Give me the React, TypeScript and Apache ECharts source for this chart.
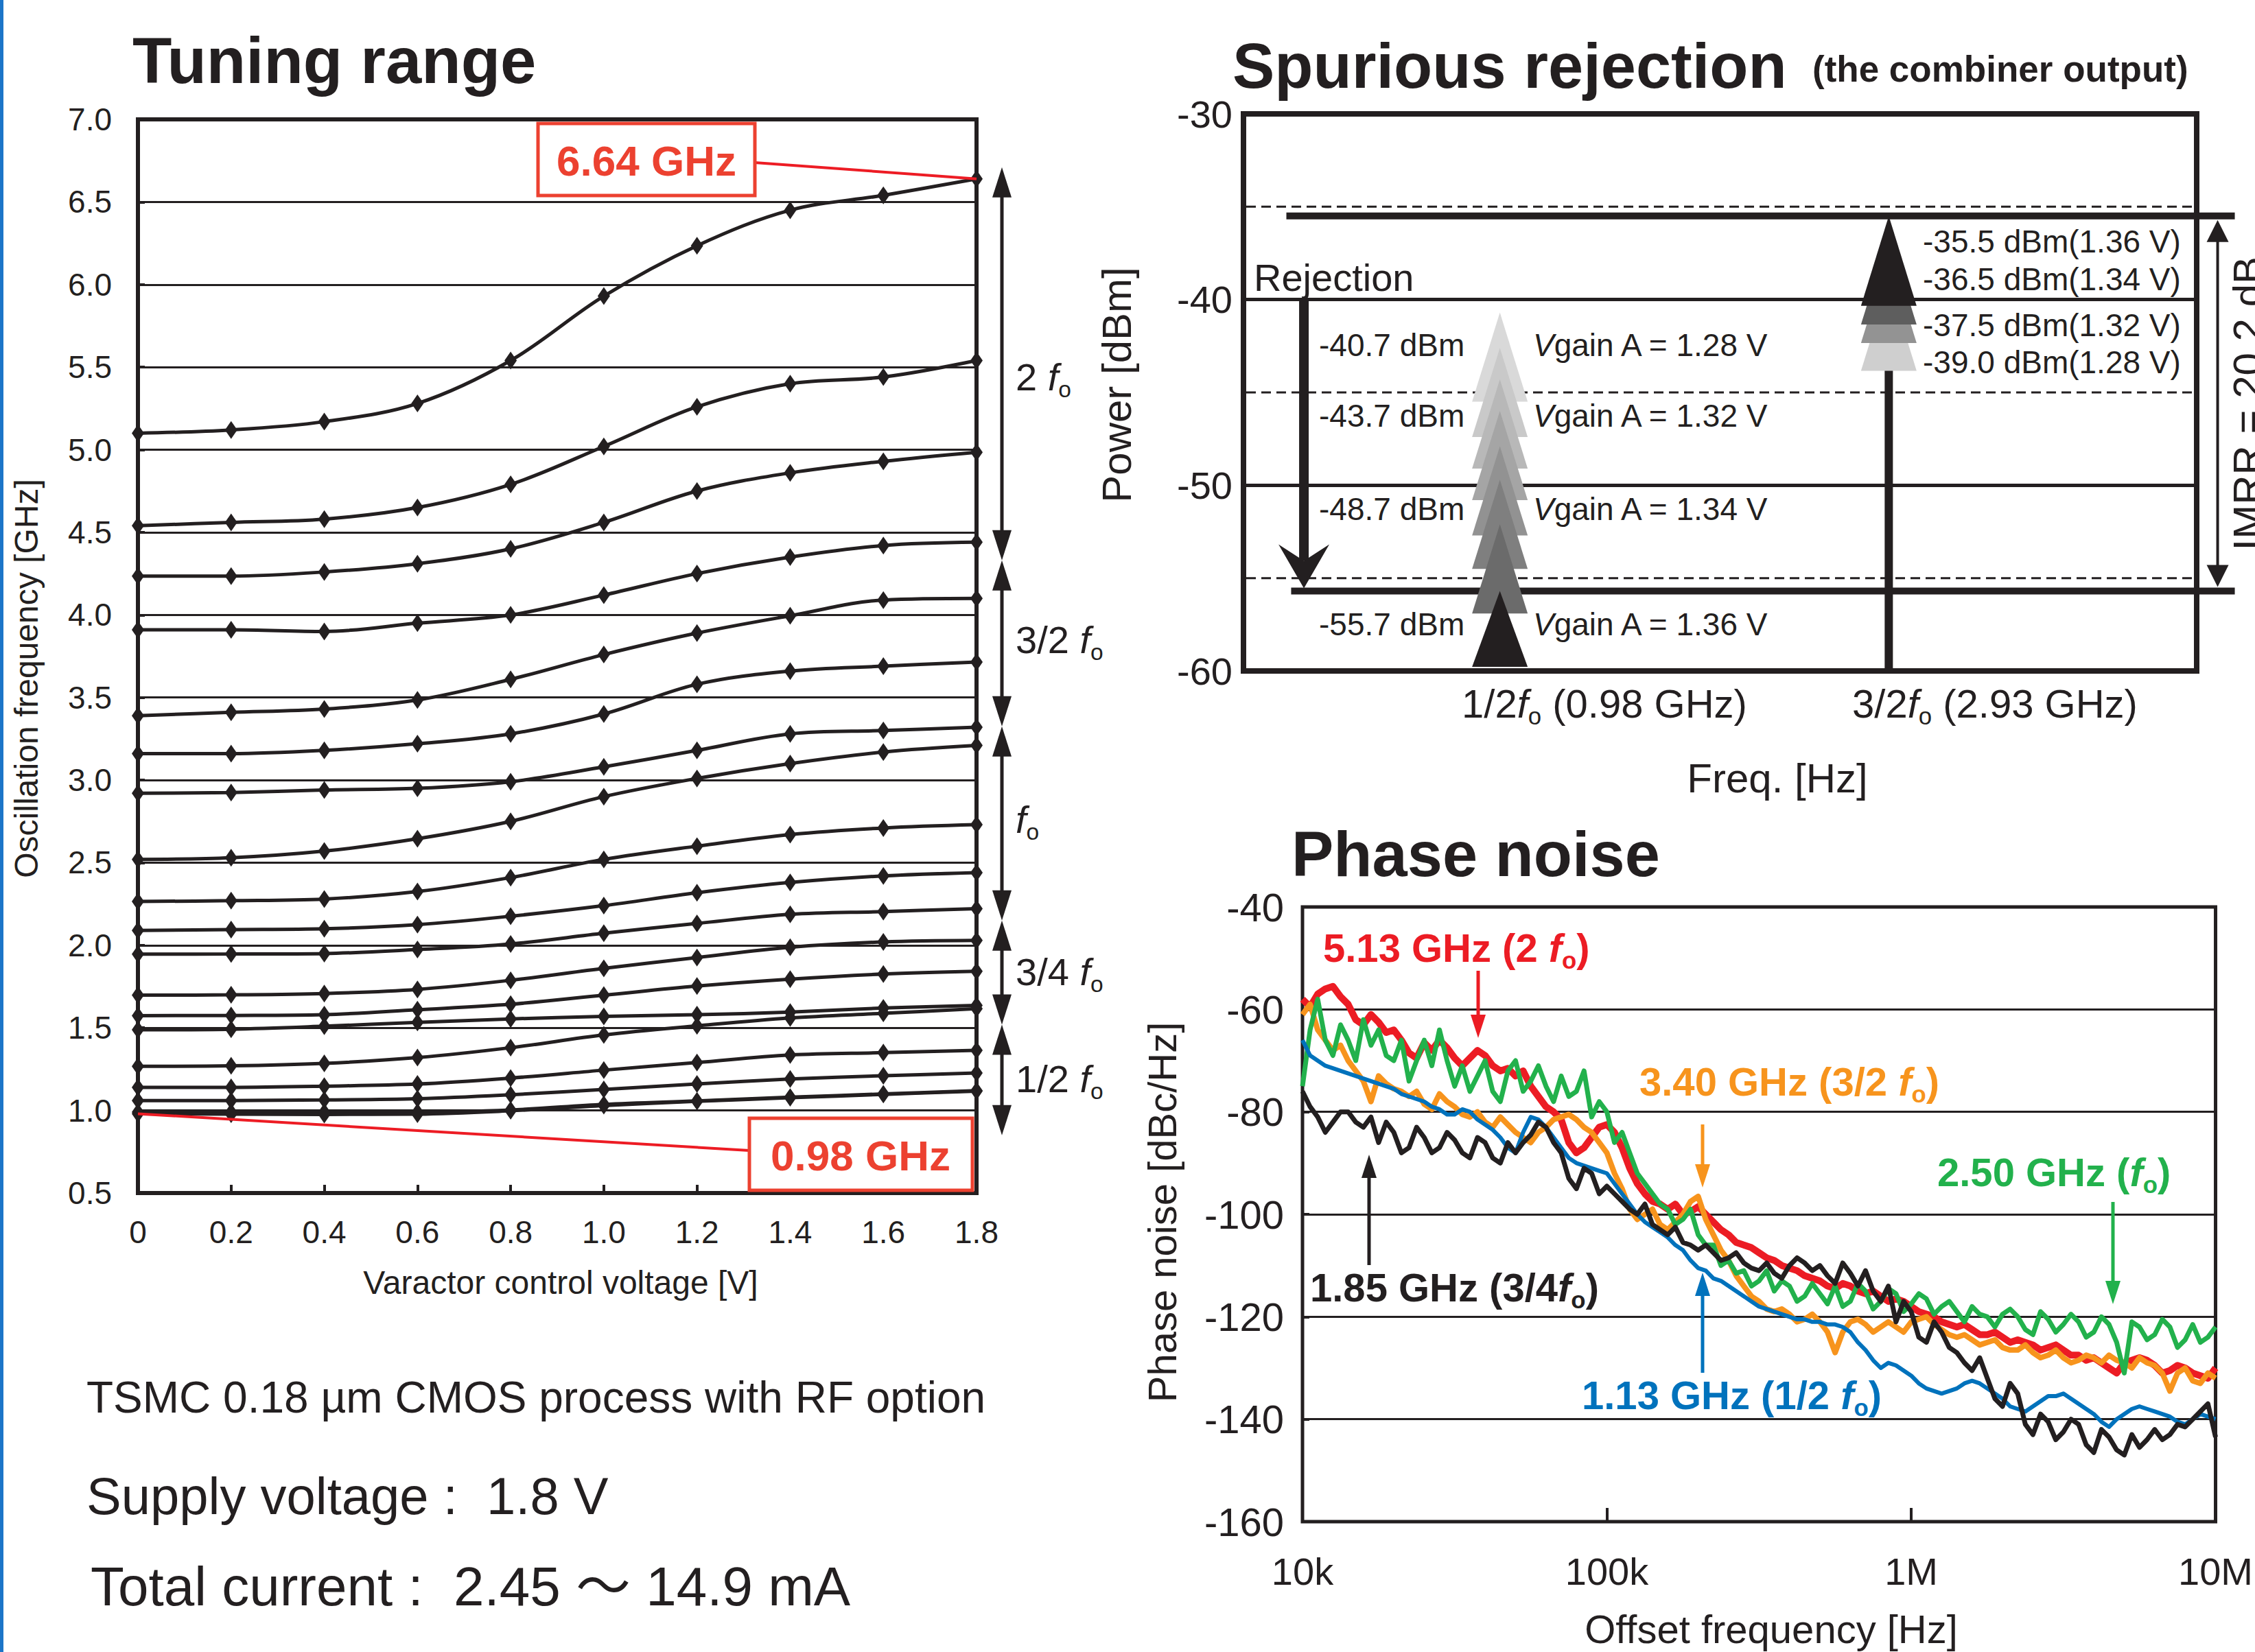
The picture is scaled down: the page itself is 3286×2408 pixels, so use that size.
import React, { useEffect, useRef } from 'react';
import * as echarts from 'echarts';

const W = 3286;
const H = 2408;
const INK = '#231f20';
const RED_BOX = '#ec4130';
const RED_LINE = '#ed1c24';
const FONT = '"Liberation Sans", Arial, Helvetica, sans-serif';
const CJK = '"Liberation Sans", "Noto Sans CJK JP", sans-serif';

// ---------------- Tuning range ----------------
const VCTRL = [0, 0.2, 0.4, 0.6, 0.8, 1.0, 1.2, 1.4, 1.6, 1.8];
const F01 = [5.1, 5.12, 5.17, 5.28, 5.54, 5.93, 6.235, 6.45, 6.54, 6.64];
const F02 = [4.54, 4.56, 4.58, 4.65, 4.79, 5.02, 5.26, 5.4, 5.44, 5.54];
const F03 = [4.235, 4.235, 4.26, 4.31, 4.4, 4.56, 4.75, 4.86, 4.93, 4.985];
const F04 = [3.91, 3.91, 3.9, 3.95, 4.0, 4.12, 4.25, 4.35, 4.42, 4.44];
const F05 = [3.39, 3.41, 3.43, 3.485, 3.61, 3.76, 3.89, 3.995, 4.09, 4.1];
const F06 = [3.16, 3.16, 3.18, 3.22, 3.28, 3.4, 3.58, 3.66, 3.69, 3.715];
const F07 = [2.92, 2.925, 2.94, 2.95, 2.99, 3.08, 3.18, 3.28, 3.3, 3.32];
const F08 = [2.52, 2.53, 2.57, 2.645, 2.75, 2.9, 3.01, 3.1, 3.17, 3.21];
const F09 = [2.265, 2.27, 2.28, 2.325, 2.41, 2.52, 2.6, 2.67, 2.71, 2.73];
const F10 = [2.09, 2.095, 2.1, 2.125, 2.176, 2.24, 2.318, 2.38, 2.42, 2.44];
const F11 = [1.946, 1.947, 1.95, 1.974, 2.008, 2.073, 2.132, 2.187, 2.204, 2.222];
const F12 = [1.698, 1.7, 1.708, 1.733, 1.788, 1.86, 1.926, 1.988, 2.02, 2.029];
const F13 = [1.574, 1.575, 1.58, 1.61, 1.643, 1.698, 1.753, 1.795, 1.826, 1.843];
const F14 = [1.488, 1.492, 1.51, 1.533, 1.554, 1.57, 1.58, 1.595, 1.62, 1.636];
const F15 = [1.267, 1.27, 1.285, 1.32, 1.38, 1.457, 1.512, 1.56, 1.588, 1.616];
const F16 = [1.14, 1.14, 1.147, 1.16, 1.196, 1.244, 1.29, 1.336, 1.35, 1.364];
const F17 = [1.06, 1.06, 1.064, 1.071, 1.095, 1.127, 1.16, 1.19, 1.21, 1.227];
const F18 = [0.99, 0.99, 0.99, 0.99, 1.003, 1.037, 1.058, 1.08, 1.1, 1.12];
const F19 = [0.98, 0.978, 0.976, 0.978, 0.998, 1.03, 1.055, 1.077, 1.097, 1.117];
const TUNE_CURVES = [F01, F02, F03, F04, F05, F06, F07, F08, F09, F10, F11, F12, F13, F14, F15, F16, F17, F18, F19];
const F_MAX = 6.64;
const F_MIN = 0.98;
const BAND_EDGES = [6.71, 4.33, 3.325, 2.15, 1.52, 0.85];
const BAND_NAMES = ['2 ', '3/2 ', '', '3/4 ', '1/2 '];
const BAND_LABEL_AT = [5.44, 3.85, 2.76, 1.84, 1.19];

// ---------------- Spurious rejection ----------------
const SPUR_X = [2.69, 6.77]; // 1/2 fo, 3/2 fo positions on the frequency axis
const HALF_VGAIN = ['1.28', '1.32', '1.34', '1.36'];
const HALF_LEVEL = [-40.7, -43.7, -48.7, -55.7];
const HALF_STACK = [-40.7, -42.6, -44.3, -46.0, -47.9, -49.7, -52.1, -55.7];
const HALF_SHADES = ['#d9d9d9', '#c9c9c9', '#b8b8b8', '#a5a5a5', '#929292', '#7f7f7f', '#6b6b6b', '#231f20'];
const IMRR_VGAIN = ['1.36', '1.34', '1.32', '1.28'];
const IMRR_LEVEL = [-35.5, -36.5, -37.5, -39.0];
const IMRR_SHADES = ['#231f20', '#5e5e5e', '#939393', '#cfcfcf'];
const SPUR_DASHED = [-35, -45, -55];
const IMRR_DB = '20.2';

// ---------------- Phase noise (dBc/Hz, log-spaced offsets from 10 kHz to 10 MHz) ----------------
const PN_LOG_START = 4;
const PN_LOG_END = 7;
const PN_RED_513 = [-58, -59.5, -57, -56, -55.5, -57.5, -59, -62, -63, -61, -62.5, -64.5, -64, -66, -68.5, -69.5, -66.5, -68, -66, -67.5, -69.5, -71, -69.5, -68, -69, -71, -72, -71.5, -73, -72, -75, -77, -79, -80, -81.5, -86, -88, -87, -85, -83, -82.5, -84, -87, -91, -94, -96, -97.5, -98, -99, -98, -100, -99.5, -98.5, -100, -101.5, -103, -104, -105.5, -106, -106.5, -107.5, -108.5, -109, -110, -110.5, -111, -112, -112.5, -113, -114, -114.5, -113.5, -114, -115, -115.5, -115, -116, -117, -116.5, -117, -118, -119, -119.5, -120, -121, -121.5, -122, -121.5, -122.5, -123.5, -123.5, -123, -124, -125, -124.5, -125, -125.5, -126.5, -126, -125.5, -126.5, -127.5, -127.5, -128.5, -128, -129, -130, -131, -129, -128.5, -128, -128.5, -129.5, -131, -130.5, -129.5, -130, -131, -131.5, -132, -130];
const PN_ORANGE_340 = [-61, -59, -64, -66, -68, -67, -70, -72, -74, -78, -73, -74.5, -75.5, -76, -77, -76, -78.5, -79.5, -76.5, -78, -79, -80.5, -81, -80, -82, -83, -81, -82.5, -84, -85, -86, -84, -83, -81.5, -81, -80.5, -81.5, -83, -84, -86, -88, -92, -95, -99, -101, -100, -99, -102, -103, -101.5, -100, -97.5, -96.5, -101, -104, -107, -109, -112, -114, -116, -117, -118.5, -119, -118.5, -119.5, -121, -120.5, -119.5, -121, -123, -127, -123, -121, -120.5, -121.5, -123, -122, -121, -122, -123, -121, -120.5, -120, -121.5, -122.5, -123.5, -124, -123.5, -124.5, -125.5, -125, -124.5, -126, -126.5, -126.5, -125.5, -127, -128, -127.5, -126.5, -128, -129, -128.5, -127.5, -128, -129, -127.5, -128.5, -129, -130, -128, -129, -129.5, -131, -134.5, -131, -130, -132.5, -133, -131, -132];
const PN_GREEN_250 = [-75, -64, -58, -66, -69, -63, -66, -70, -62, -67, -64, -69, -70, -66, -74, -70, -66, -71, -64, -70, -75, -71, -76, -73, -70, -76, -78, -72, -70, -76, -74, -71, -75, -78, -73, -77, -76, -72, -81, -78, -80, -86, -84, -88, -92, -94, -96, -98, -99, -102, -101, -99, -104, -106, -106, -110, -109, -111.5, -111, -114, -113, -111, -115, -113, -114, -117, -116, -113.5, -115.5, -117.5, -114, -118, -117, -113.5, -115, -118.5, -117, -114.5, -115.5, -119, -117.5, -115.5, -116.5, -119.5, -118, -117, -119, -121, -118, -119.5, -120, -122, -119.5, -118.5, -120, -122.5, -123.5, -119, -120.5, -123, -121.5, -119.5, -121, -124, -123, -120, -121.5, -125, -131, -121, -122, -124.5, -123.5, -120.5, -122, -126, -124.5, -121.5, -125, -124, -122];
const PN_BLUE_113 = [-66, -69, -70, -71, -71.5, -72, -72.5, -73, -73.5, -74, -74.5, -75, -75.5, -76.5, -77, -77.5, -78, -79, -79.5, -80.5, -80.5, -79.5, -80, -81.5, -82.5, -83.5, -85, -87, -88, -84, -81, -81.5, -83, -85, -87, -89, -90, -90.5, -91, -91.5, -92, -94, -96, -98, -100, -101.5, -102.5, -103.5, -104.5, -106, -107, -109, -110.5, -111, -112.5, -113, -114, -115, -116, -117, -118, -118.5, -119, -119.5, -120, -120.5, -120.5, -121, -121, -121.5, -121.5, -122, -123, -125, -126.5, -128.5, -130, -129, -129.5, -130.5, -131.5, -133, -134, -134.5, -135, -134.5, -134, -133, -132.5, -133, -134, -135, -136, -137.5, -138, -138.5, -137.5, -136.5, -135.5, -135.5, -135, -136, -137, -138, -139, -140.5, -141.5, -140, -139, -138, -137.5, -138, -138.5, -139, -139.5, -140.5, -141, -140, -139, -139.5, -140];
const PN_BLACK_185 = [-76, -79, -81, -84, -82, -80, -80, -82, -83, -81, -86, -82, -84, -88, -87, -83, -85, -88, -87, -84, -85.5, -88, -89, -85, -86, -89, -90, -86, -88, -86, -84.5, -82, -83, -86, -88, -93, -95, -91, -92, -96, -94.5, -96, -97.5, -99, -100, -98, -102, -103, -104, -102.5, -105.5, -106, -107, -106, -107.5, -109, -108.5, -107.5, -109.5, -110.5, -111, -109.5, -111.5, -112.5, -110, -108.5, -109.5, -111, -110, -112, -113.5, -109.5, -111.5, -114, -111, -115, -117, -114, -121, -117, -119, -124, -125, -121, -123, -126, -127, -129, -130.5, -128, -132, -136, -137.5, -133, -135, -141, -143, -139, -140.5, -144, -142.5, -140, -141, -145, -146.5, -142, -143.5, -146, -147, -143, -145.5, -144, -142, -144, -143, -141, -141.5, -140, -138.5, -137, -143.5];
const PN_COLORS = { red: '#ec1c24', orange: '#f7941d', green: '#22b14c', blue: '#0072bc', black: INK };
const PN_TRACES = [
  { name: '5.13 GHz (2 fo)', values: PN_RED_513, color: PN_COLORS.red, width: 10 },
  { name: '3.40 GHz (3/2 fo)', values: PN_ORANGE_340, color: PN_COLORS.orange, width: 8 },
  { name: '2.50 GHz (fo)', values: PN_GREEN_250, color: PN_COLORS.green, width: 7 },
  { name: '1.13 GHz (1/2 fo)', values: PN_BLUE_113, color: PN_COLORS.blue, width: 6 },
  { name: '1.85 GHz (3/4fo)', values: PN_BLACK_185, color: PN_COLORS.black, width: 7 },
];
const PN_TICK_LABELS: Record<number, string> = { 4: '10k', 5: '100k', 6: '1M', 7: '10M' };

function buildOption(): any {
  const tuneSeries = TUNE_CURVES.map((c, i) => ({
    type: 'line',
    name: 'curve ' + (i + 1),
    xAxisIndex: 0,
    yAxisIndex: 0,
    data: VCTRL.map((v, j) => [v, c[j]]),
    smooth: 0.35,
    symbol: 'diamond',
    symbolSize: [18, 26],
    showSymbol: true,
    lineStyle: { color: INK, width: 5 },
    itemStyle: { color: INK },
    z: 3,
    silent: true,
  }));
  const pnSeries = PN_TRACES.map((tr) => {
    const n = tr.values.length;
    return {
      type: 'line',
      name: tr.name,
      xAxisIndex: 2,
      yAxisIndex: 2,
      data: tr.values.map((v, i) => [Math.pow(10, PN_LOG_START + (i * (PN_LOG_END - PN_LOG_START)) / (n - 1)), v]),
      showSymbol: false,
      symbol: 'none',
      lineStyle: { color: tr.color, width: tr.width, join: 'round' },
      z: 3,
      silent: true,
    };
  });
  const lbl = (size: number, margin: number, extra: any = {}) => ({
    color: INK, fontFamily: FONT, fontSize: size, margin, ...extra,
  });
  return {
    animation: false,
    backgroundColor: '#ffffff',
    textStyle: { fontFamily: FONT },
    grid: [
      { left: 201, top: 174, width: 1222, height: 1565, show: true, borderColor: INK, borderWidth: 6, backgroundColor: 'transparent' },
      { left: 1812, top: 166, width: 1389, height: 812, show: true, borderColor: INK, borderWidth: 8, backgroundColor: 'transparent' },
      { left: 1898, top: 1322, width: 1338, height: 896, show: true, borderColor: INK, borderWidth: 5, backgroundColor: 'transparent' },
    ],
    xAxis: [
      {
        gridIndex: 0, type: 'value', min: 0, max: 1.8, interval: 0.2,
        axisLine: { show: false },
        axisTick: { show: true, inside: true, length: 12, lineStyle: { color: INK, width: 4 } },
        splitLine: { show: false },
        axisLabel: lbl(46, 34, { formatter: (v: number) => (v === 0 ? '0' : v.toFixed(1)) }),
      },
      { gridIndex: 1, type: 'value', min: 0, max: 10, show: false },
      {
        gridIndex: 2, type: 'log', logBase: 10, min: 1e4, max: 1e7,
        axisLine: { show: false },
        axisTick: { show: true, inside: true, length: 20, lineStyle: { color: INK, width: 4 } },
        minorTick: { show: false },
        splitLine: { show: false },
        axisLabel: lbl(56, 44, { formatter: (v: number) => PN_TICK_LABELS[Math.round(Math.log10(v))] || '' }),
      },
    ],
    yAxis: [
      {
        gridIndex: 0, type: 'value', min: 0.5, max: 7, interval: 0.5,
        axisLine: { show: false },
        axisTick: { show: true, inside: true, length: 10, lineStyle: { color: INK, width: 4 } },
        splitLine: { show: true, lineStyle: { color: INK, width: 3 } },
        axisLabel: lbl(46, 38, { formatter: (v: number) => v.toFixed(1) }),
      },
      {
        gridIndex: 1, type: 'value', min: -60, max: -30, interval: 10,
        axisLine: { show: false },
        axisTick: { show: false },
        splitLine: { show: true, lineStyle: { color: INK, width: 5 } },
        axisLabel: lbl(56, 16),
      },
      {
        gridIndex: 2, type: 'value', min: -160, max: -40, interval: 20,
        axisLine: { show: false },
        axisTick: { show: true, inside: true, length: 10, lineStyle: { color: INK, width: 4 } },
        splitLine: { show: true, lineStyle: { color: INK, width: 3 } },
        axisLabel: lbl(58, 27),
      },
    ],
    series: [
      ...tuneSeries,
      { type: 'line', name: 'spur frame', xAxisIndex: 1, yAxisIndex: 1, data: [], silent: true },
      ...pnSeries,
    ],
  };
}

function T(x: number, y: number, text: string, size: number, o: any = {}) {
  const fill = o.fill || INK;
  const align = o.align || 'left';
  const va = o.va || 'middle';
  const style: any = {
    text,
    fill,
    fontSize: size,
    fontFamily: o.family || FONT,
    fontWeight: o.weight || 'normal',
    fontStyle: o.italic ? 'italic' : 'normal',
    align, verticalAlign: va, textAlign: align, textVerticalAlign: va,
  };
  if (o.rich) style.rich = o.rich;
  return { type: 'text', x, y, rotation: o.rotation || 0, silent: true, z: 20, style };
}

function foRich(size: number, fill: string, weight = 'normal') {
  return {
    n: { fontSize: size, fontFamily: FONT, fontWeight: weight, fill, lineHeight: size * 1.25 },
    i: { fontSize: size, fontFamily: FONT, fontWeight: weight, fontStyle: 'italic', fill, lineHeight: size * 1.25 },
    s: { fontSize: size * 0.6, fontFamily: FONT, fontWeight: weight, fill, lineHeight: size * 0.72, verticalAlign: 'bottom' },
  };
}

function L(x1: number, y1: number, x2: number, y2: number, width: number, color = INK, dash?: number[]) {
  const style: any = { stroke: color, lineWidth: width };
  if (dash) style.lineDash = dash;
  return { type: 'line', silent: true, z: 15, shape: { x1, y1, x2, y2 }, style };
}

function Tri(x: number, tip: number, w: number, h: number, fill: string, up = true) {
  const b = up ? tip + h : tip - h;
  return { type: 'polygon', silent: true, z: 16, shape: { points: [[x, tip], [x - w / 2, b], [x + w / 2, b]] }, style: { fill } };
}

function buildGraphics(chart: any) {
  const P = (g: number, x: number, y: number) => chart.convertToPixel({ gridIndex: g }, [x, y]) as number[];
  const els: any[] = [];
  els.push({ type: 'rect', silent: true, z: 20, shape: { x: 0, y: 0, width: 5, height: H }, style: { fill: '#1c75c8' } });

  // ---- Tuning range ----
  els.push(T(193, 88, 'Tuning range', 94, { weight: 'bold' }));
  els.push(T(817, 1869, 'Varactor control voltage [V]', 48, { align: 'center' }));
  els.push(T(38, 989, 'Oscillation frequency [GHz]', 48, { align: 'center', rotation: Math.PI / 2 }));
  // 6.64 GHz callout
  const pMax = P(0, VCTRL[VCTRL.length - 1], F_MAX);
  els.push(L(1100, 237, pMax[0], pMax[1], 4, RED_LINE));
  els.push({ type: 'rect', silent: true, z: 18, shape: { x: 784, y: 180, width: 316, height: 105 }, style: { fill: '#fff', stroke: RED_BOX, lineWidth: 5 } });
  els.push(T(942, 234, F_MAX.toFixed(2) + ' GHz', 62, { weight: 'bold', fill: RED_BOX, align: 'center' }));
  // 0.98 GHz callout
  const pMin = P(0, VCTRL[0], F_MIN);
  els.push(L(pMin[0], pMin[1], 1092, 1677, 4, RED_LINE));
  els.push({ type: 'rect', silent: true, z: 18, shape: { x: 1092, y: 1630, width: 325, height: 105 }, style: { fill: '#fff', stroke: RED_BOX, lineWidth: 5 } });
  els.push(T(1254, 1684, F_MIN.toFixed(2) + ' GHz', 62, { weight: 'bold', fill: RED_BOX, align: 'center' }));
  // band arrows
  const ax = 1460;
  const bys = BAND_EDGES.map((v) => P(0, 0, v)[1]);
  for (let i = 0; i < bys.length - 1; i++) {
    const top = bys[i];
    const bot = bys[i + 1];
    els.push(L(ax, top + 30, ax, bot - 30, 5));
    els.push(Tri(ax, top, 28, 44, INK, true));
    els.push(Tri(ax, bot, 28, 44, INK, false));
    const mid = P(0, 0, BAND_LABEL_AT[i])[1];
    els.push(T(1480, mid, BAND_NAMES[i] + '{i|f}{s|o}', 56, { rich: foRich(56, INK) }));
  }

  // ---- Spurious rejection ----
  els.push(T(1796, 96, 'Spurious rejection', 92, { weight: 'bold' }));
  els.push(T(2641, 100, '(the combiner output)', 53, { weight: 'bold' }));
  els.push(T(1627, 561, 'Power [dBm]', 60, { align: 'center', rotation: Math.PI / 2 }));
  els.push(T(2590, 1134, 'Freq. [Hz]', 60, { align: 'center' }));
  els.push(T(2338, 1025, '1/2{i|f}{s|o} (0.98 GHz)', 58, { align: 'center', rich: foRich(58, INK) }));
  els.push(T(2907, 1025, '3/2{i|f}{s|o} (2.93 GHz)', 58, { align: 'center', rich: foRich(58, INK) }));
  const S = (x: number, y: number) => P(1, x, y);
  SPUR_DASHED.forEach((v) => {
    const a = S(0, v);
    const b = S(10, v);
    els.push(L(a[0] + 4, a[1], b[0] - 4, b[1], 3, INK, [14, 8]));
  });
  // thick level lines
  const top = S(0.45, IMRR_LEVEL[0]);
  const topR = S(10.4, IMRR_LEVEL[0]);
  els.push(L(top[0], top[1], topR[0], topR[1], 10));
  const bot = S(0.5, HALF_LEVEL[3]);
  const botR = S(10.4, HALF_LEVEL[3]);
  els.push(L(bot[0], bot[1], botR[0], botR[1], 10));
  // rejection arrow
  const rx = S(0.634, -40)[0];
  const ry0 = S(0, -40)[1];
  const ry1 = S(0, HALF_LEVEL[3])[1] - 4;
  els.push(L(rx, ry0, rx, ry1 - 40, 14));
  els.push({ type: 'polygon', silent: true, z: 16, shape: { points: [[rx, ry1], [rx - 37, ry1 - 64], [rx, ry1 - 40], [rx + 37, ry1 - 64]] }, style: { fill: INK } });
  els.push(T(1827, 404, 'Rejection', 56));
  // 1/2 fo stacked arrowheads
  const hx = S(SPUR_X[0], 0)[0];
  const floorY = S(0, -60)[1] - 6;
  HALF_STACK.forEach((v, i) => {
    const tip = S(0, v)[1];
    const h = Math.min(130, floorY - tip);
    els.push(Tri(hx, tip, 81, h, HALF_SHADES[i], true));
  });
  els.push(L(hx, floorY, hx, S(0, HALF_STACK[0])[1] + 40, 4, 'rgba(35,31,32,0.55)'));
  // 3/2 fo arrow
  const ix = S(SPUR_X[1], 0)[0];
  els.push(L(ix, floorY + 4, ix, S(0, IMRR_LEVEL[0])[1] + 40, 12));
  for (let i = IMRR_LEVEL.length - 1; i >= 0; i--) {
    const tip = S(0, IMRR_LEVEL[i])[1];
    els.push(Tri(ix, tip, 81, 131, IMRR_SHADES[i], true));
  }
  // level labels
  const halfY = [503, 606, 742, 910];
  HALF_LEVEL.forEach((v, i) => {
    els.push(T(1922, halfY[i], v.toFixed(1) + ' dBm', 46));
    els.push(T(2234, halfY[i], '{i|V}gain A = ' + HALF_VGAIN[i] + ' V', 46, { rich: { i: { fontSize: 46, fontFamily: FONT, fontStyle: 'italic', fill: INK } } }));
  });
  const imrrY = [352, 407, 474, 528];
  IMRR_LEVEL.forEach((v, i) => {
    els.push(T(2802, imrrY[i], v.toFixed(1) + ' dBm(' + IMRR_VGAIN[i] + ' V)', 46));
  });
  // IMRR double arrow
  const mx = S(10.22, 0)[0];
  const my0 = S(0, IMRR_LEVEL[0])[1] + 6;
  const my1 = S(0, HALF_LEVEL[3])[1] - 6;
  els.push(L(mx, my0 + 20, mx, my1 - 20, 4));
  els.push(Tri(mx, my0, 32, 32, INK, true));
  els.push(Tri(mx, my1, 32, 32, INK, false));
  els.push(T(3275, (my0 + my1) / 2, 'IMRR = ' + IMRR_DB + ' dB', 60, { align: 'center', rotation: Math.PI / 2 }));

  // ---- Phase noise ----
  els.push(T(1882, 1245, 'Phase noise', 92, { weight: 'bold' }));
  els.push(T(1693, 1767, 'Phase noise [dBc/Hz]', 58, { align: 'center', rotation: Math.PI / 2 }));
  els.push(T(2581, 2374, 'Offset frequency [Hz]', 58, { align: 'center' }));
  els.push(T(1928, 1381, '5.13 GHz (2 {i|f}{s|o})', 58, { weight: 'bold', fill: PN_COLORS.red, rich: foRich(58, PN_COLORS.red, 'bold') }));
  els.push(T(2389, 1576, '3.40 GHz (3/2 {i|f}{s|o})', 58, { weight: 'bold', fill: PN_COLORS.orange, rich: foRich(58, PN_COLORS.orange, 'bold') }));
  els.push(T(2823, 1708, '2.50 GHz ({i|f}{s|o})', 58, { weight: 'bold', fill: PN_COLORS.green, rich: foRich(58, PN_COLORS.green, 'bold') }));
  els.push(T(1909, 1876, '1.85 GHz (3/4{i|f}{s|o})', 58, { weight: 'bold', fill: INK, rich: foRich(58, INK, 'bold') }));
  els.push(T(2305, 2033, '1.13 GHz (1/2 {i|f}{s|o})', 58, { weight: 'bold', fill: PN_COLORS.blue, rich: foRich(58, PN_COLORS.blue, 'bold') }));
  const arrow = (x: number, from: number, tip: number, color: string) => {
    const down = tip > from;
    els.push(L(x, from, x, down ? tip - 20 : tip + 20, 5, color));
    els.push(Tri(x, tip, 22, 34, color, !down));
  };
  arrow(2154, 1415, 1513, PN_COLORS.red);
  arrow(2481, 1639, 1731, PN_COLORS.orange);
  arrow(3079, 1752, 1901, PN_COLORS.green);
  arrow(1995, 1844, 1683, INK);
  arrow(2481, 2001, 1855, PN_COLORS.blue);

  // ---- Footnotes ----
  els.push(T(126, 2037, 'TSMC 0.18 \u00b5m CMOS process with RF option', 64));
  els.push(T(126, 2180, 'Supply voltage :  1.8 V', 76));
  els.push(T(132, 2312, 'Total current :  2.45 \u301c 14.9 mA', 80, { family: CJK }));
  return els;
}

export default function App() {
  const ref = useRef<HTMLDivElement>(null);
  useEffect(() => {
    document.body.style.margin = '0';
    const chart = echarts.init(ref.current as HTMLDivElement, undefined, { renderer: 'svg', width: W, height: H });
    chart.setOption(buildOption());
    chart.setOption({ graphic: { elements: buildGraphics(chart) } });
    return () => chart.dispose();
  }, []);
  return <div ref={ref} style={{ width: W, height: H, background: '#fff', overflow: 'hidden' }} />;
}
